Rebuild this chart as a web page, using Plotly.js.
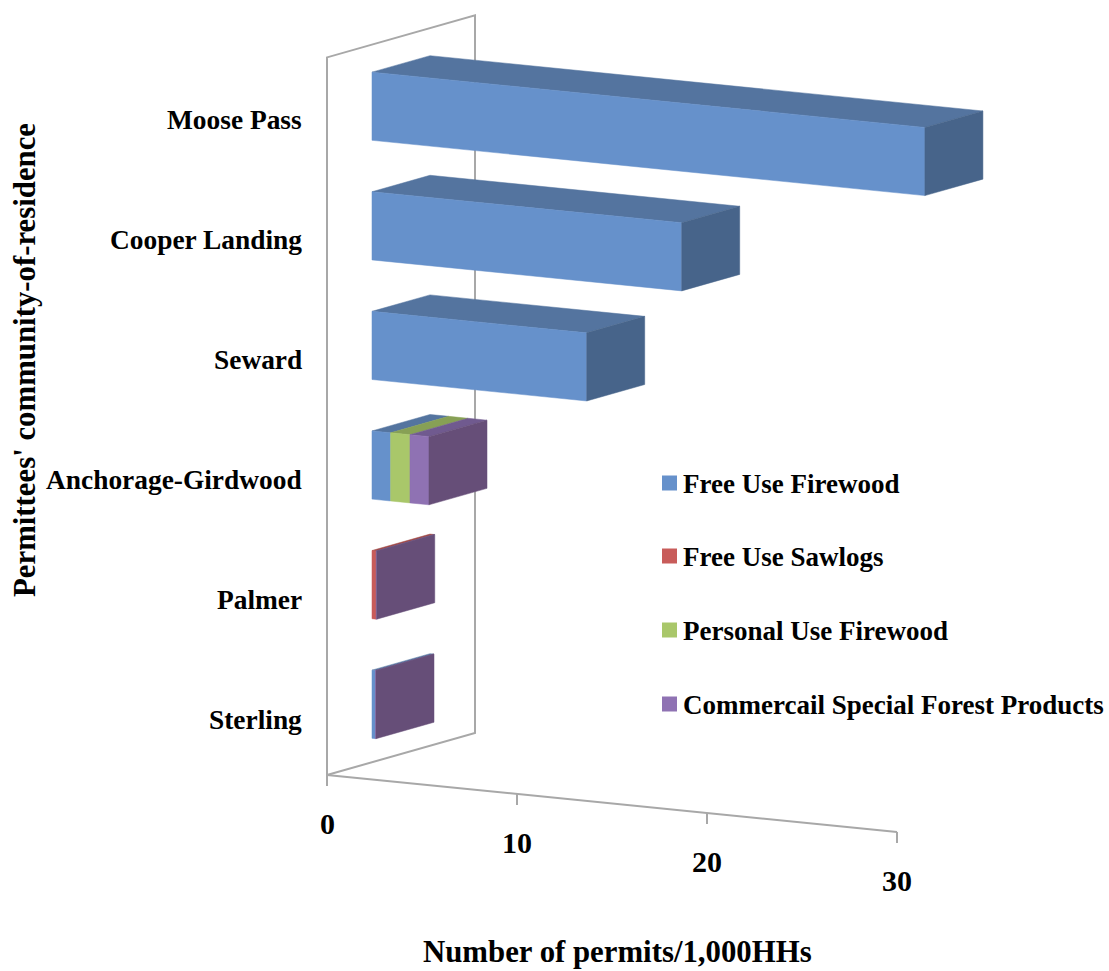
<!DOCTYPE html>
<html>
<head>
<meta charset="utf-8">
<script src="https://cdn.plot.ly/plotly-3.0.1.min.js"></script>
<style>html,body{margin:0;padding:0;background:#fff}#chart{width:1109px;height:971px}</style>
</head>
<body>
<div id="chart"></div>
<script>
// Permit rates per 1,000 households, listed from the front of the axis to the back
const categories = ['Sterling', 'Palmer', 'Anchorage-Girdwood', 'Seward', 'Cooper Landing', 'Moose Pass'];
const freeUseFirewood = [0.18, 0, 0.98, 11.3, 16.3, 29.1];
const freeUseSawlogs = [0, 0.22, 0, 0, 0, 0];
const personalUseFirewood = [0, 0, 1.02, 0, 0, 0];
const commercialForestProducts = [0.03, 0.03, 1.0, 0, 0, 0];
const valueTicks = [0, 10, 20, 30];

const seriesNames = ['Free Use Firewood', 'Free Use Sawlogs', 'Personal Use Firewood', 'Commercail Special Forest Products'];
const seriesValues = [freeUseFirewood, freeUseSawlogs, personalUseFirewood, commercialForestProducts];
const frontColors = ['#6691cb', '#c85c5a', '#a9c76a', '#8f72b3'];
const topColors = ['#54749f', '#a04a48', '#87a055', '#705a8f'];
const sideColors = ['#47648a', '#8a403e', '#74894a', '#664e78'];

// Oblique projection of the chart's box onto the page:
// v = value along the axis, u = height in category bands, d = depth into the box (0..1)
const originX = 327, originY = 775;
const perValueX = 19, perValueY = 1.9;
const depthX = 148, depthY = -42;
const bandHeight = 119.6;
const px = (v, d) => originX + perValueX * v + depthX * d;
const py = (v, u, d) => originY + perValueY * v + depthY * d - bandHeight * u;

const barFront = 0.304, barBack = 0.696, barLow = 0.2, barHigh = 0.77;

function face(xs, ys, corners) {
  corners.forEach(c => { xs.push(px(c[0], c[2])); ys.push(py(c[0], c[1], c[2])); });
  xs.push(xs[xs.length - corners.length]); ys.push(ys[ys.length - corners.length]);
  xs.push(null); ys.push(null);
}

function faceTrace(xs, ys, color) {
  return {x: xs, y: ys, mode: 'lines', fill: 'toself', fillcolor: color,
    line: {color: color, width: 0.5}, hoverinfo: 'skip', showlegend: false};
}

function lineTrace(points) {
  return {x: points.map(p => p[0]), y: points.map(p => p[1]), mode: 'lines',
    line: {color: '#a8a8a8', width: 2}, hoverinfo: 'skip', showlegend: false};
}

const traces = [];

// Side wall and the value axis with its tick marks
traces.push(lineTrace([[px(0, 0), py(0, 0, 0)], [px(0, 0), py(0, 6, 0)], [px(0, 1), py(0, 6, 1)],
  [px(0, 1), py(0, 0, 1)], [px(0, 0), py(0, 0, 0)]]));
traces.push(lineTrace([[px(0, 0), py(0, 0, 0)], [px(30, 0), py(30, 0, 0)]]));
valueTicks.forEach(t => traces.push(lineTrace([[px(t, 0), py(t, 0, 0)], [px(t, 0), py(t, 0, 0) + 11]])));

// Stacked bars: each series adds front and top faces, the last non-empty one closes the end
seriesValues.forEach((values, s) => {
  const fx = [], fy = [], tx = [], ty = [], ex = [], ey = [];
  values.forEach((value, c) => {
    if (!value) return;
    let start = 0;
    for (let k = 0; k < s; k++) start += seriesValues[k][c];
    const end = start + value;
    face(fx, fy, [[start, c + barLow, barFront], [end, c + barLow, barFront], [end, c + barHigh, barFront], [start, c + barHigh, barFront]]);
    face(tx, ty, [[start, c + barHigh, barFront], [end, c + barHigh, barFront], [end, c + barHigh, barBack], [start, c + barHigh, barBack]]);
    const isLast = seriesValues.slice(s + 1).every(vals => !vals[c]);
    if (isLast) {
      face(ex, ey, [[end, c + barLow, barFront], [end, c + barLow, barBack], [end, c + barHigh, barBack], [end, c + barHigh, barFront]]);
    }
  });
  traces.push(faceTrace(tx, ty, topColors[s]));
  traces.push(faceTrace(fx, fy, frontColors[s]));
  traces.push(faceTrace(ex, ey, sideColors[s]));
});

// Key: one square swatch per series
const keyRows = [483, 556, 630, 704];
const keyX = 669.5;
seriesNames.forEach((name, s) => {
  traces.push({x: [keyX], y: [keyRows[s]], mode: 'markers', name: name,
    marker: {symbol: 'square', size: 15, color: frontColors[s]}, hoverinfo: 'skip', showlegend: false});
});

const serif = 'Liberation Serif, Times New Roman, serif';
function label(text, x, y, anchor, size, extra) {
  return Object.assign({text: text, x: x, y: y, xref: 'x', yref: 'y', xanchor: anchor, yanchor: 'middle',
    showarrow: false, font: {family: serif, size: size, color: '#000'}}, extra || {});
}

const annotations = [];
categories.forEach((name, c) => {
  annotations.push(label('<b>' + name + '</b>', 304, 720 - 120 * c, 'right', 27.4));
});
valueTicks.forEach(t => {
  annotations.push(label('<b>' + t + '</b>', px(t, 0), py(t, 0, 0) + 48, 'center', 30));
});
seriesNames.forEach((name, s) => {
  annotations.push(label('<b>' + name + '</b>', 681, keyRows[s] + 1, 'left', 27));
});
annotations.push(label('<b>Number of permits/1,000HHs</b>', 617, 952, 'center', 30.8));
annotations.push(label("<b>Permittees' community-of-residence</b>", 25, 360, 'center', 30.8, {textangle: -90}));

const layout = {
  width: 1109, height: 971,
  margin: {l: 0, r: 0, t: 0, b: 0},
  paper_bgcolor: '#fff', plot_bgcolor: '#fff',
  showlegend: false,
  xaxis: {range: [0, 1109], visible: false, fixedrange: true},
  yaxis: {range: [971, 0], visible: false, fixedrange: true},
  annotations: annotations
};

Plotly.newPlot('chart', traces, layout, {displayModeBar: false, staticPlot: true});
</script>
</body>
</html>
